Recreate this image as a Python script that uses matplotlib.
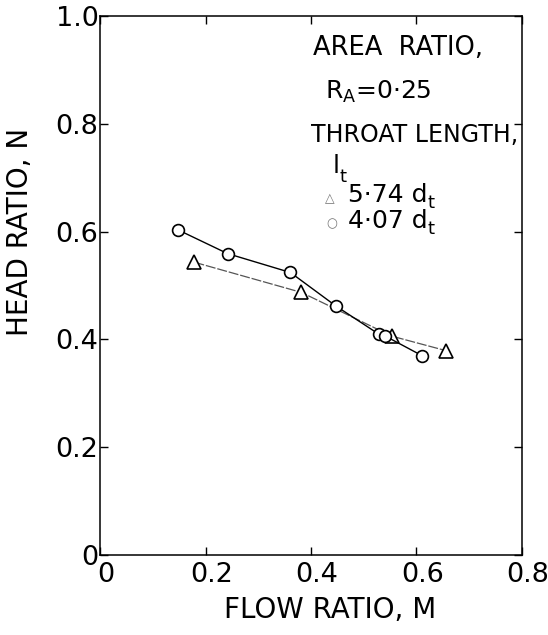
import matplotlib
matplotlib.use("Agg")
import matplotlib.pyplot as plt
import matplotlib.transforms as mtransforms

# Data
circle_M = [0.148, 0.242, 0.361, 0.447, 0.528, 0.541, 0.610]
circle_N = [0.603, 0.559, 0.524, 0.462, 0.410, 0.406, 0.370]
tri_M = [0.179, 0.382, 0.553, 0.656]
tri_N = [0.543, 0.487, 0.406, 0.379]

xticks = [0, 0.2, 0.4, 0.6, 0.8]
xticklabels = ["0", "0.2", "0.4", "0.6", "0.8"]
yticks = [0, 0.2, 0.4, 0.6, 0.8, 1.0]
yticklabels = ["0", "0.2", "0.4", "0.6", "0.8", "1.0"]

plt.rcParams['font.family'] = ['DejaVu Sans']

fig = plt.figure(figsize=(5.48, 6.35), dpi=100)
ax = fig.add_axes([0.1825, 0.126, 0.770, 0.849])

ax.plot(tri_M, tri_N, color='#555555', lw=0.9, linestyle=(0, (8, 1.5)),
        marker='^', markersize=10, markerfacecolor='white',
        markeredgecolor='black', markeredgewidth=1.2, zorder=2)
ax.plot(circle_M, circle_N, color='black', lw=1.0,
        marker='o', markersize=8.5, markerfacecolor='white',
        markeredgecolor='black', markeredgewidth=1.2, zorder=3)

ax.set_xlim(0, 0.8)
ax.set_ylim(0, 1.0)
ax.set_xticks(xticks)
ax.set_xticklabels(xticklabels)
ax.set_yticks(yticks)
ax.set_yticklabels(yticklabels)
ax.tick_params(direction='in', length=6, width=1.0, top=True, right=True,
               labelsize=19.5, color='black')
ax.tick_params(axis='x', pad=5)
ax.tick_params(axis='y', pad=1)
for s in ax.spines.values():
    s.set_linewidth(1.1)

offset = mtransforms.ScaledTranslation(6 / 100.0, 0, fig.dpi_scale_trans)
for lab in ax.get_xticklabels():
    lab.set_transform(lab.get_transform() + offset)

fig.text(0.037, 0.635, "HEAD RATIO, N", rotation=90, fontsize=20,
         ha='center', va='center')
fig.text(0.602, 0.040, "FLOW RATIO, M", fontsize=20, ha='center', va='center')

tx = lambda px: px / 548.0
ty = lambda py: 1 - py / 635.0
fig.text(tx(313), ty(48), "AREA  RATIO,", fontsize=18.5, va='center')
fig.text(tx(325), ty(92), "R$_\\mathregular{A}$=0·25", fontsize=18, va='center')
fig.text(tx(311), ty(135), "THROAT LENGTH,", fontsize=17, va='center')
fig.text(tx(333), ty(166), "l", fontsize=18, va='center')
fig.text(tx(339), ty(177), "t", fontsize=13, va='center')
fig.text(tx(325), ty(199), "△", fontsize=9, color='#777777', va='center')
fig.text(tx(348), ty(195), "5·74 d", fontsize=18, va='center')
fig.text(tx(427), ty(203), "t", fontsize=13, va='center')
fig.text(tx(326), ty(224), "○", fontsize=9, color='#777777', va='center')
fig.text(tx(348), ty(221), "4·07 d", fontsize=18, va='center')
fig.text(tx(427), ty(229), "t", fontsize=13, va='center')

fig.savefig("out.png", dpi=100)
